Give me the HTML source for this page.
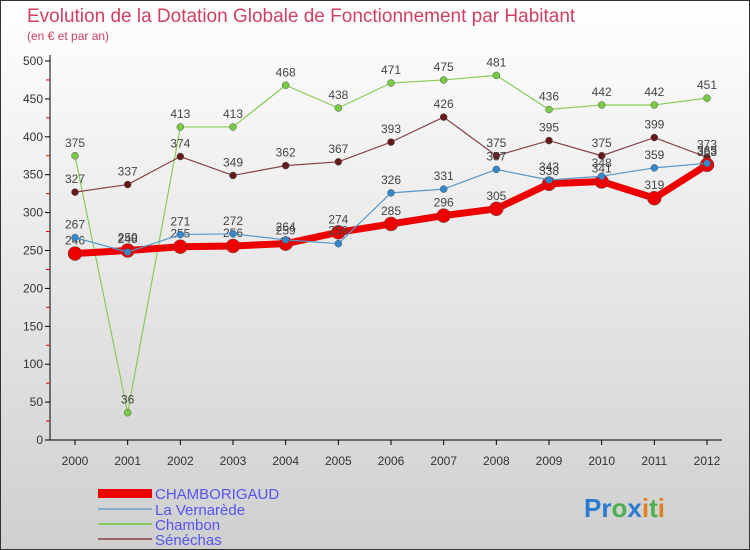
<!DOCTYPE html>
<html><head><meta charset="utf-8"><style>
body{margin:0}
svg{display:block;font-family:"Liberation Sans",sans-serif}
</style></head><body>
<svg id="c" width="750" height="550" viewBox="0 0 750 550" xmlns="http://www.w3.org/2000/svg">
<defs><linearGradient id="bg" x1="0" y1="0" x2="0" y2="1"><stop offset="0" stop-color="#ffffff"/><stop offset="1" stop-color="#cfcfcf"/></linearGradient></defs>
<rect x="0.5" y="0.5" width="749" height="549" fill="url(#bg)" stroke="#333"/>
<text x="27" y="22" font-size="19" fill="#d04060">Evolution de la Dotation Globale de Fonctionnement par Habitant</text>
<text x="27" y="40" font-size="12" fill="#d04060">(en € et par an)</text>
<g id="axes"></g><g id="series"></g>
<g>
<rect x="98" y="489" width="54" height="9" fill="#e00"/>
<text x="155" y="499" font-size="15" fill="#5555ee">CHAMBORIGAUD</text>
<line x1="98" y1="509" x2="152" y2="509" stroke="#88aacc" stroke-width="2"/>
<text x="155" y="515" font-size="15" fill="#5555ee">La Vernarède</text>
<line x1="98" y1="524" x2="152" y2="524" stroke="#88cc66" stroke-width="2"/>
<text x="155" y="530" font-size="15" fill="#5555ee">Chambon</text>
<line x1="98" y1="539" x2="152" y2="539" stroke="#996666" stroke-width="2"/>
<text x="155" y="545" font-size="15" fill="#5555ee">Séné­chas</text>
</g>
<text x="584" y="517" font-size="26" font-weight="bold"><tspan fill="#2a7ad0">Pr</tspan><tspan fill="#4caf50">o</tspan><tspan fill="#2a7ad0">x</tspan><tspan fill="#e08020">i</tspan><tspan fill="#4caf50">t</tspan><tspan fill="#e08020">i</tspan></text>
</svg>
<script>
const years=["2000","2001","2002","2003","2004","2005","2006","2007","2008","2009","2010","2011","2012"];
const yTicks=[0,50,100,150,200,250,300,350,400,450,500];
const chamborigaud=[246,250,255,256,259,274,285,296,305,338,341,319,363];
const vernarede=[267,248,271,272,264,259,326,331,357,343,348,359,365];
const chambon=[375,36,413,413,468,438,471,475,481,436,442,442,451];
const senechas=[327,337,374,349,362,367,393,426,375,395,375,399,373];
const NS="http://www.w3.org/2000/svg";
const xS=i=>75+i*(707-75)/(years.length-1);
const yS=v=>440-v*(440-61)/500;
function mk(p,t,a){const e=document.createElementNS(NS,t);for(const k in a)e.setAttribute(k,a[k]);p.appendChild(e);return e;}
const ax=document.getElementById('axes');
const yl=mk(ax,'line',{x1:50,y1:55,x2:50,y2:440,stroke:'#000'});


const xl=mk(ax,'line',{x1:50,y1:440,x2:722,y2:440,stroke:'#000'});


yTicks.forEach((v,k)=>{
 mk(ax,'line',{x1:45,y1:yS(v),x2:50,y2:yS(v),stroke:'#000'});
 if(k<yTicks.length-1)mk(ax,'line',{x1:46,y1:yS(v+25),x2:50,y2:yS(v+25),stroke:'#d00'});
 const t=mk(ax,'text',{x:43,y:yS(v)+4,'font-size':12,'text-anchor':'end',fill:'#333'});
 t.textContent=v;
 
 
});
years.forEach((y,i)=>{
 mk(ax,'line',{x1:xS(i),y1:440,x2:xS(i),y2:445,stroke:'#000'});
 const t=mk(ax,'text',{x:xS(i),y:465,'font-size':12,'text-anchor':'middle',fill:'#333'});
 t.textContent=y;
 
 
});
const sg=document.getElementById('series');
function series(name,vals,color,w,r,dot){
 const g=mk(sg,'g',{});
 
 
 const pl=mk(g,'polyline',{points:vals.map((v,i)=>xS(i)+','+yS(v)).join(' '),fill:'none',stroke:color,'stroke-width':w,'stroke-linejoin':'round'});
 
 
 vals.forEach((v,i)=>{
  const c=mk(g,'circle',{cx:xS(i),cy:yS(v),r:r,fill:dot,stroke:'#555','stroke-width':0.5});
  
  
  const t=mk(g,'text',{x:xS(i),y:yS(v)-9,'font-size':12,'text-anchor':'middle',fill:'#444'});
  t.textContent=v;
  
  
 });
}
series('chambon',chambon,'#88cc55',1.2,3.5,'#77cc44');
series('senechas',senechas,'#884444',1.2,3.5,'#661a1a');
series('chamborigaud',chamborigaud,'#ee0000',7,7,'#ee0000');
series('la-vernarede',vernarede,'#5599cc',1.2,3.5,'#3388cc');
</script>
</body></html>
